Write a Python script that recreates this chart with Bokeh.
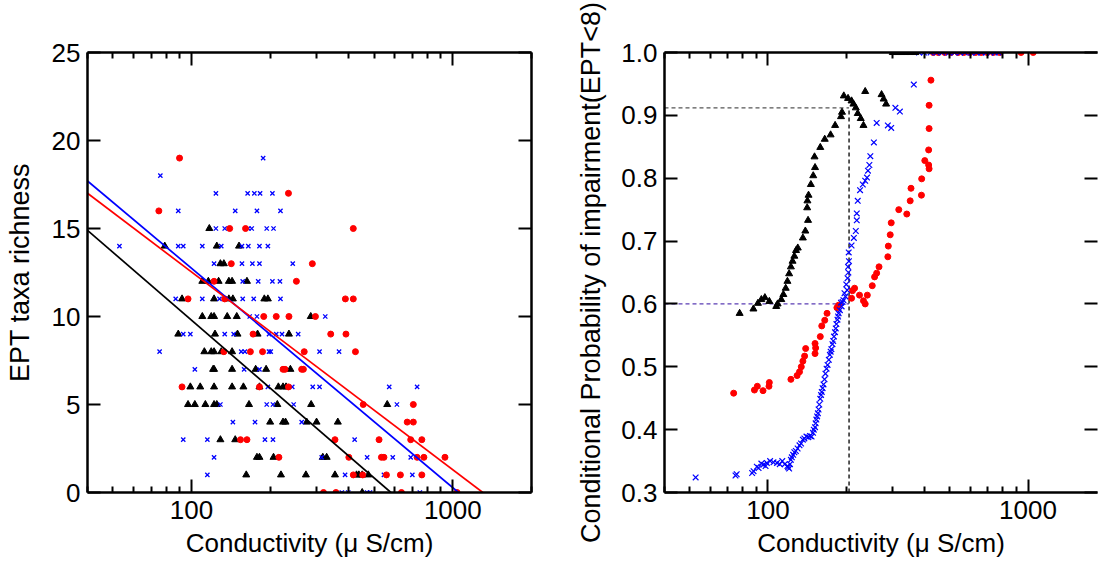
import math
from bokeh.plotting import figure
from bokeh.layouts import row
from bokeh.models import LogAxis, LinearAxis, FixedTicker, NumeralTickFormatter
from bokeh.embed import file_html
from bokeh.resources import INLINE

SANS = "Liberation Sans"

# ---------------- data ----------------
x_major_ticks = [100, 1000]
x_minor_ticks = [20, 30, 40, 50, 60, 70, 80, 90, 200, 300, 400, 500, 600, 700, 800, 900, 2000]
ept_ticks = [0, 5, 10, 15, 20, 25]
prob_ticks = [0.3, 0.4, 0.5, 0.6, 0.7, 0.8, 0.9, 1.0]

# left panel: (conductivity, EPT richness)
red_sites = [(90, 19), (75, 16), (140, 15), (161, 15), (416, 15), (235, 17), (142, 13), (290, 13),
             (252, 12), (122, 12), (97, 11), (134, 11), (388, 11), (416, 11), (189, 10), (211, 10),
             (236, 10), (298, 10), (172, 9), (341, 9), (390, 9), (133, 8), (168, 8), (187, 8),
             (270, 8), (424, 8), (224, 7), (228, 7), (264, 7), (268, 7), (92, 6), (182, 6), (235, 6),
             (454, 5), (154, 3), (163, 3), (354, 3), (216, 2), (400, 2), (416, 1), (320, 0), (357, 0),
             (522, 3), (533, 2), (545, 2), (557, 1), (630, 1), (669, 4), (690, 3), (706, 5), (706, 4),
             (730, 2), (761, 3), (775, 2), (761, 1), (933, 2), (636, 0), (1038, 0), (452, 1)]
blue_sites = [(188, 19), (76, 18), (124, 17), (164, 17), (174, 17), (183, 17), (204, 17), (89, 16),
              (147, 16), (178, 16), (219, 16), (124, 15), (134, 15), (165, 15), (170, 15), (194, 15),
              (206, 15), (53, 14), (89, 14), (93, 14), (110, 14), (130, 14), (156, 14), (165, 14),
              (182, 14), (196, 14), (122, 13), (156, 13), (171, 13), (182, 13), (244, 13), (157, 12),
              (180, 12), (204, 12), (218, 12), (87, 11), (110, 11), (128, 11), (157, 11), (173, 11),
              (219, 11), (167, 10), (178, 10), (325, 10), (93, 9), (99, 9), (134, 9), (145, 9),
              (198, 9), (211, 9), (222, 9), (256, 9), (75.5, 8), (155, 8), (160, 8), (198, 8),
              (201, 8), (309, 8), (367, 8), (103, 7), (159, 7), (182, 7), (196, 6), (243, 6),
              (291, 6), (309, 6), (129, 5), (194, 5), (205, 5), (246, 5), (144, 4), (175, 4),
              (264, 4), (93, 3), (115, 3), (191, 3), (205, 3), (421, 3), (122, 2), (315, 2),
              (115, 1), (387, 1), (376, 0), (398, 0), (571, 6), (730, 6), (611, 5), (470, 2),
              (589, 2), (690, 2), (545, 1), (700, 1), (482, 0), (748, 0), (470, 0)]
black_sites = [(79, 14), (117, 15), (125, 14), (152, 14), (129, 13), (133, 13), (110, 12), (116, 12),
               (127, 12), (139, 12), (143, 12), (163, 12), (92, 11), (122, 11), (139, 11), (144, 11),
               (190, 11), (196, 11), (110, 10), (119, 10), (122, 10), (137, 10), (149, 10), (286, 10),
               (89, 9), (123, 9), (150, 9), (179, 9), (236, 9), (112, 8), (119, 8), (122, 8), (130, 8),
               (143, 8), (121, 7), (122, 7), (143, 7), (176, 7), (193, 7), (239, 7), (99, 6), (108, 6),
               (122, 6), (143, 6), (158, 6), (182, 6), (215, 6), (224, 6), (230, 6), (97, 5), (103, 5),
               (113, 5), (122, 5), (125, 5), (166, 5), (213, 5), (287, 5), (561, 5), (200, 4), (224, 4),
               (229, 4), (276, 4), (301, 4), (363, 4), (129, 3), (147, 3), (178, 2), (182, 2), (206, 2),
               (318, 2), (329, 2), (162, 1), (220, 1), (274, 1), (354, 1), (428, 1), (437, 1), (450, 1),
               (475, 1), (450, 0)]

# regression fits: EPT = intercept - slope * log10(conductivity)
fit_colors = ["#0000ff", "#ff0000", "#000000"]
fit_intercept = [37.68, 35.01, 35.45]
fit_slope = [12.47, 11.24, 12.83]

# right panel: (conductivity, conditional probability)
black_prob = [(77.8, 0.585), (87.9, 0.592), (91.5, 0.601), (94.3, 0.607), (97.3, 0.610), (101.2, 0.604),
              (107.6, 0.596), (108.9, 0.600), (112.5, 0.607), (114.6, 0.615), (117.0, 0.625),
              (118.8, 0.636), (120.6, 0.648), (122.5, 0.659), (124.3, 0.668), (126.3, 0.676),
              (128.2, 0.685), (130.2, 0.689), (136.2, 0.705), (139.2, 0.716), (142.6, 0.733),
              (141.5, 0.753), (141.8, 0.764), (143.2, 0.773), (146.2, 0.790), (149.3, 0.804),
              (151.7, 0.817), (151.0, 0.834), (158.9, 0.849), (165.3, 0.862), (174.1, 0.869),
              (181.2, 0.884), (190.9, 0.898), (192.6, 0.905), (195.7, 0.931), (203.2, 0.927),
              (209.6, 0.923), (213.1, 0.918), (217.6, 0.912), (221.4, 0.903), (227.4, 0.895),
              (232.9, 0.884), (236.5, 0.938), (273.4, 0.933), (278.5, 0.926), (284.6, 0.918),
              (302, 1.0), (311, 1.0), (318, 1.0), (327, 1.0), (338, 1.0), (352, 1.0), (369, 1.0)]
blue_prob = [(52.7, 0.324), (75, 0.327), (75.8, 0.329), (86.9, 0.331), (88, 0.334), (90.6, 0.341),
             (92, 0.339), (94.3, 0.346), (96, 0.344), (97.9, 0.342), (99, 0.347), (101.9, 0.350),
             (105, 0.348), (108.3, 0.347), (111, 0.345), (113.5, 0.350), (116, 0.345), (118.8, 0.342),
             (119.5, 0.340), (120.6, 0.338), (121.5, 0.345), (122.5, 0.352), (123.5, 0.356),
             (125, 0.360), (126.3, 0.364), (128, 0.366), (130, 0.370), (132.2, 0.375), (134, 0.378),
             (136.2, 0.384), (138, 0.386), (140.6, 0.389), (143, 0.388), (145, 0.390), (147.1, 0.389),
             (149, 0.395), (150, 0.400), (151.7, 0.404), (152.5, 0.410), (153.5, 0.416), (154.5, 0.421),
             (155.6, 0.426), (156.5, 0.432), (157.5, 0.440), (158.9, 0.449), (160, 0.455),
             (161, 0.460), (162.2, 0.466), (163.5, 0.472), (165, 0.480), (166.3, 0.489),
             (168, 0.497), (169.5, 0.503), (171.4, 0.511), (173, 0.519), (174.2, 0.524),
             (175.3, 0.528), (177, 0.536), (178.2, 0.541), (179.4, 0.548), (181, 0.555),
             (182.2, 0.561), (183.3, 0.568), (185, 0.575), (186, 0.580), (187.0, 0.585),
             (189, 0.590), (190.9, 0.602), (192, 0.596), (193.5, 0.603), (195, 0.606),
             (196.9, 0.617), (198.5, 0.612), (200.0, 0.631), (201.5, 0.622), (202.3, 0.641),
             (203.2, 0.659), (203.8, 0.650), (204.4, 0.682), (204.8, 0.668), (209.6, 0.693),
             (213.9, 0.705), (217.6, 0.716), (219.5, 0.733), (219.5, 0.744), (221.4, 0.764),
             (226.0, 0.781), (231.5, 0.790), (236.5, 0.796), (240.3, 0.801), (242.4, 0.812),
             (245.4, 0.821), (247.5, 0.835), (255.4, 0.857), (261.8, 0.888), (289, 0.884),
             (297.8, 0.880), (309, 0.912), (321.5, 0.906), (363.7, 0.949), (381, 1.0), (398, 1.0),
             (422, 1.0), (445, 1.0), (468, 1.0), (497, 1.0), (521, 1.0), (548, 1.0), (571, 1.0),
             (604, 1.0), (633, 1.0), (662, 1.0), (690, 1.0), (718, 1.0), (745, 1.0), (770, 1.0)]
red_prob = [(73.8, 0.458), (88.7, 0.463), (91.0, 0.469), (95.7, 0.462), (100.9, 0.469), (101.2, 0.475),
            (122.5, 0.480), (129.4, 0.486), (132.2, 0.492), (134.3, 0.500), (136.2, 0.509),
            (138.3, 0.517), (139.6, 0.529), (151.7, 0.537), (151.7, 0.521), (152.5, 0.530),
            (158.9, 0.548), (161.0, 0.565), (165.3, 0.574), (168.7, 0.585), (184.1, 0.594),
            (187.0, 0.598), (211.3, 0.621), (215.3, 0.625), (209.6, 0.609), (224.9, 0.614),
            (232.9, 0.605), (236.5, 0.600), (241.0, 0.614), (251.8, 0.629), (257.0, 0.643),
            (261.8, 0.649), (267.3, 0.659), (289.0, 0.675), (290.2, 0.692), (295.2, 0.710),
            (297.8, 0.729), (318.4, 0.750), (341.8, 0.743), (352.3, 0.764), (354.8, 0.784),
            (389.2, 0.773), (390.0, 0.799), (400.9, 0.828), (414.8, 0.821), (416.5, 0.815),
            (414.8, 0.845), (416.5, 0.879), (416.5, 0.916), (423.3, 0.956), (432, 1.0), (452, 1.0),
            (478, 1.0), (506, 1.0), (538, 1.0), (566, 1.0), (598, 1.0), (628, 1.0), (661, 1.0),
            (697, 1.0), (735, 1.0), (778, 1.0), (940, 1.0), (1047, 1.0)]

threshold_cond = 205
threshold_prob_black = 0.912
threshold_prob_blue = 0.60

x_title = "Conductivity (\u03bc S/cm)"


def xs(pairs):
    return [a for a, b in pairs]


def ys(pairs):
    return [b for a, b in pairs]


def style_common(ax, show_labels):
    ax.axis_line_width = 2.5
    ax.axis_line_color = "black"
    ax.major_tick_in = 13
    ax.major_tick_out = 0
    ax.minor_tick_in = 6
    ax.minor_tick_out = 0
    ax.major_tick_line_width = 2
    ax.minor_tick_line_width = 2
    ax.major_tick_line_color = "black"
    ax.minor_tick_line_color = "black"
    if show_labels:
        ax.major_label_text_font = SANS
        ax.major_label_text_font_size = "26px"
        ax.major_label_text_color = "black"
        ax.major_label_standoff = 7
    else:
        ax.major_label_text_font_size = "1px"
        ax.major_label_text_alpha = 0
        ax.major_label_standoff = 0


def make_fig(width, y_range, x_end, min_left, min_right, y_ticks, y_fmt, ylabel,
             ylabel_standoff, right_line):
    p = figure(width=width, height=560, x_axis_type="log", x_range=(40, x_end), y_range=y_range,
               output_backend="svg", toolbar_location=None,
               min_border_left=min_left, min_border_right=min_right,
               min_border_top=52, min_border_bottom=66)
    p.grid.visible = False
    p.outline_line_color = None
    p.background_fill_color = "white"
    p.border_fill_color = "white"

    bx = p.xaxis[0]
    bx.ticker = FixedTicker(ticks=x_major_ticks, minor_ticks=x_minor_ticks)
    bx.formatter = NumeralTickFormatter(format="0")
    style_common(bx, True)
    bx.major_label_standoff = 8
    bx.axis_label = x_title
    bx.axis_label_text_font = SANS
    bx.axis_label_text_font_size = "26px"
    bx.axis_label_text_font_style = "normal"
    bx.axis_label_text_color = "black"
    bx.axis_label_standoff = 6

    ly = p.yaxis[0]
    ly.ticker = FixedTicker(ticks=y_ticks)
    ly.formatter = y_fmt
    style_common(ly, True)
    ly.minor_tick_line_color = None
    ly.axis_label = ylabel
    ly.axis_label_text_font = SANS
    ly.axis_label_text_font_size = "27px"
    ly.axis_label_text_font_style = "normal"
    ly.axis_label_text_color = "black"
    ly.axis_label_standoff = ylabel_standoff

    top = LogAxis(ticker=FixedTicker(ticks=x_major_ticks, minor_ticks=x_minor_ticks))
    style_common(top, False)
    p.add_layout(top, "above")

    right = LinearAxis(ticker=FixedTicker(ticks=y_ticks))
    style_common(right, False)
    right.minor_tick_line_color = None
    if not right_line:
        right.axis_line_color = None
    p.add_layout(right, "right")
    return p


# ---------------- left panel ----------------
p1 = make_fig(560, (0, 25), 2000, 87, 29, ept_ticks, NumeralTickFormatter(format="0"),
              "EPT taxa richness", 14, True)

p1.scatter(xs(black_sites), ys(black_sites), marker="triangle", size=7,
           fill_color="black", line_color="black")
p1.scatter(xs(blue_sites), ys(blue_sites), marker="x", size=6, line_color="#0000ff", line_width=1.3)
p1.scatter(xs(red_sites), ys(red_sites), marker="circle", size=6,
           fill_color="#ff0000", line_color="#ff0000")

for col, a, b in zip(fit_colors, fit_intercept, fit_slope):
    x0 = 40
    x1 = 10 ** (a / b)
    p1.line([x0, x1], [a - b * math.log10(x0), 0], line_color=col, line_width=1.7)

# ---------------- right panel ----------------
p2 = make_fig(540, (0.3, 1.0), 1850, 104, 3, prob_ticks, NumeralTickFormatter(format="0.0"),
              "Conditional Probability of impairment(EPT<8)", 12, False)

p2.line([40, threshold_cond], [threshold_prob_black, threshold_prob_black],
        line_color="#555555", line_width=1.3, line_dash="4 3")
p2.line([40, threshold_cond], [threshold_prob_blue, threshold_prob_blue],
        line_color="#5a3cb4", line_width=1.3, line_dash="4 3")
p2.line([threshold_cond, threshold_cond], [0.3, threshold_prob_black],
        line_color="black", line_width=1.3, line_dash="4 3")

p2.scatter(xs(red_prob), ys(red_prob), marker="circle", size=6,
           fill_color="#ff0000", line_color="#ff0000")
p2.scatter(xs(blue_prob), ys(blue_prob), marker="x", size=8, line_color="#0000ff", line_width=1.2)
p2.scatter(xs(black_prob), ys(black_prob), marker="triangle", size=7,
           fill_color="black", line_color="black")

layout = row(p1, p2)
open("out.html", "w").write(file_html(layout, INLINE))
